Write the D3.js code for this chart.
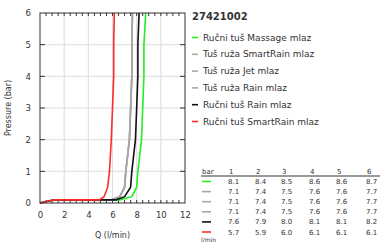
<!DOCTYPE html>
<html>
<head>
<script src="https://cdn.jsdelivr.net/npm/d3@7"></script>
<style>
  body { margin: 0; background: #fff; }
  svg text { font-family: "DejaVu Sans", sans-serif; fill: #333; }
</style>
</head>
<body>
<svg id="chart" width="380" height="242"></svg>
<script>
// Data
var title = "27421002";
var pressure = [0, 0.1, 0.1, 0.2, 0.5, 1, 2, 3, 4, 5, 6];
var qMassage = [0, 1.2, 6.6, 7.6, 8.0, 8.1, 8.4, 8.5, 8.6, 8.6, 8.75];
var qSmartRain = [0, 1.2, 5.9, 6.6, 7.0, 7.1, 7.4, 7.5, 7.6, 7.6, 7.65];
var qJet = [0, 1.2, 5.9, 6.6, 7.0, 7.1, 7.4, 7.5, 7.6, 7.6, 7.65];
var qRain = [0, 1.2, 5.9, 6.6, 7.0, 7.1, 7.4, 7.5, 7.6, 7.6, 7.65];
var qHandRain = [0, 1.2, 6.3, 7.0, 7.5, 7.6, 7.9, 8.0, 8.1, 8.1, 8.2];
var qHandSmart = [0, 1.2, 4.9, 5.3, 5.6, 5.75, 5.9, 6.0, 6.1, 6.1, 6.15];
var seriesNames = ["Ručni tuš Massage mlaz", "Tuš ruža SmartRain mlaz", "Tuš ruža Jet mlaz",
                   "Tuš ruža Rain mlaz", "Ručni tuš Rain mlaz", "Ručni tuš SmartRain mlaz"];
var seriesColors = ["#22ee22", "#a6a6a6", "#a6a6a6", "#a6a6a6", "#111111", "#ff2a2a"];
var seriesQ = [qMassage, qSmartRain, qJet, qRain, qHandRain, qHandSmart];
var tableBars = [1, 2, 3, 4, 5, 6];
var tableRows = [
  ["8.1", "8.4", "8.5", "8.6", "8.6", "8.7"],
  ["7.1", "7.4", "7.5", "7.6", "7.6", "7.7"],
  ["7.1", "7.4", "7.5", "7.6", "7.6", "7.7"],
  ["7.1", "7.4", "7.5", "7.6", "7.6", "7.7"],
  ["7.6", "7.9", "8.0", "8.1", "8.1", "8.2"],
  ["5.7", "5.9", "6.0", "6.1", "6.1", "6.1"]
];

var svg = d3.select("#chart");
var pLeft = 40, pRight = 185, pTop = 13, pBottom = 203;
var x = d3.scaleLinear().domain([0, 12]).range([pLeft, pRight]);
var y = d3.scaleLinear().domain([0, 6]).range([pBottom, pTop]);

// grid
svg.append("g").selectAll("line").data(d3.range(2, 12, 2)).enter().append("line")
  .attr("x1", d => x(d)).attr("x2", d => x(d)).attr("y1", pTop).attr("y2", pBottom)
  .attr("stroke", "#dddddd").attr("stroke-width", 1);
svg.append("g").selectAll("line").data(d3.range(1, 6)).enter().append("line")
  .attr("y1", d => y(d)).attr("y2", d => y(d)).attr("x1", pLeft).attr("x2", pRight)
  .attr("stroke", "#dddddd").attr("stroke-width", 1);

// minor x ticks top & bottom
var minor = d3.range(0.5, 12, 0.5);
svg.append("g").selectAll("line").data(minor).enter().append("line")
  .attr("x1", d => x(d)).attr("x2", d => x(d)).attr("y1", pBottom).attr("y2", pBottom - 3)
  .attr("stroke", "#333");
svg.append("g").selectAll("line").data(minor).enter().append("line")
  .attr("x1", d => x(d)).attr("x2", d => x(d)).attr("y1", pTop).attr("y2", pTop + 3)
  .attr("stroke", "#333");
// major y ticks both sides
svg.append("g").selectAll("line").data(d3.range(1, 6)).enter().append("line")
  .attr("y1", d => y(d)).attr("y2", d => y(d)).attr("x1", pLeft).attr("x2", pLeft + 5)
  .attr("stroke", "#333");
svg.append("g").selectAll("line").data(d3.range(1, 6)).enter().append("line")
  .attr("y1", d => y(d)).attr("y2", d => y(d)).attr("x1", pRight - 5).attr("x2", pRight)
  .attr("stroke", "#333");

// axes labels
var xAxis = d3.axisBottom(x).tickValues(d3.range(0, 13, 2)).tickFormat(d3.format("d")).tickSize(0).tickPadding(9);
var gx = svg.append("g").attr("transform", "translate(0," + pBottom + ")").call(xAxis);
gx.select(".domain").remove();
gx.selectAll("text").style("font-size", "8.5px").attr("fill", "#333");
var yAxis = d3.axisLeft(y).tickValues(d3.range(0, 7)).tickFormat(d3.format("d")).tickSize(0).tickPadding(9);
var gy = svg.append("g").attr("transform", "translate(" + pLeft + ",0)").call(yAxis);
gy.select(".domain").remove();
gy.selectAll("text").style("font-size", "8.5px").attr("fill", "#333");

svg.append("text").attr("x", (pLeft + pRight) / 2).attr("y", 238).attr("text-anchor", "middle")
  .style("font-size", "8px").text("Q (l/min)");
svg.append("text").attr("transform", "translate(11," + ((pTop + pBottom) / 2) + ") rotate(-90)")
  .attr("text-anchor", "middle").style("font-size", "8px").text("Pressure (bar)");

// curves
var line = d3.line().x(d => x(d[0])).y(d => y(d[1]));
seriesQ.forEach(function(q, i) {
  svg.append("path").datum(q.map((v, j) => [v, pressure[j]]))
    .attr("fill", "none").attr("stroke", seriesColors[i]).attr("stroke-width", 1.6)
    .attr("d", line);
});

// frame
svg.append("rect").attr("x", pLeft).attr("y", pTop).attr("width", pRight - pLeft).attr("height", pBottom - pTop)
  .attr("fill", "none").attr("stroke", "#333").attr("stroke-width", 1);

// legend
svg.append("text").attr("x", 192).attr("y", 20).style("font-size", "10px").style("font-weight", "bold")
  .attr("fill", "#000").text(title);
var lg = svg.append("g").selectAll("g").data(seriesNames).enter().append("g")
  .attr("transform", (d, i) => "translate(192," + (37.5 + i * 16.8) + ")");
lg.append("line").attr("x1", 0).attr("x2", 6).attr("stroke", (d, i) => seriesColors[i]).attr("stroke-width", 1.6);
lg.append("text").attr("x", 11).attr("y", 3).style("font-size", "9px").text(d => d);

// table
var colX = [228, 255, 281, 309, 336, 366];
svg.append("text").attr("x", 202).attr("y", 174).style("font-size", "7px").text("bar");
svg.append("g").selectAll("text").data(tableBars).enter().append("text")
  .attr("x", (d, i) => colX[i] + 1).attr("y", 174).style("font-size", "7px").text(d => d);
svg.append("line").attr("x1", 201).attr("x2", 380).attr("y1", 176).attr("y2", 176)
  .attr("stroke", "#333").attr("stroke-width", 1.2);
var rows = svg.append("g").selectAll("g").data(tableRows).enter().append("g")
  .attr("transform", (d, i) => "translate(0," + (184 + i * 10.1) + ")");
rows.append("line").attr("x1", 202).attr("x2", 211).attr("y1", -2.5).attr("y2", -2.5)
  .attr("stroke", (d, i) => seriesColors[i]).attr("stroke-width", 1.6);
rows.selectAll("text").data(d => d).enter().append("text")
  .attr("x", (d, i) => colX[i]).attr("y", 0).style("font-size", "7px").text(d => d);
svg.append("text").attr("x", 201).attr("y", 242).style("font-size", "6px").text("l/min");
</script>
</body>
</html>
